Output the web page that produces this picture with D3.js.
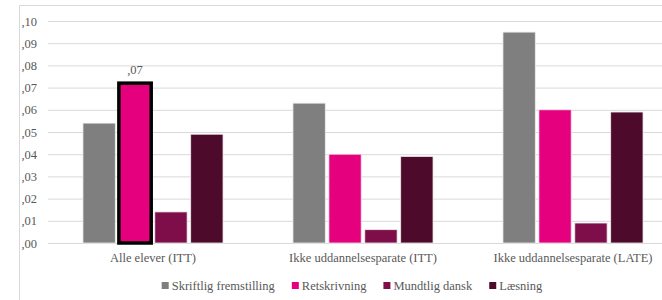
<!DOCTYPE html>
<html>
<head>
<meta charset="utf-8">
<script src="https://cdn.jsdelivr.net/npm/d3@7"></script>
<style>
  body { margin: 0; background: #fff; }
</style>
</head>
<body>
<div id="chart"></div>
<script>
// groups on the x axis
const groups = ["Alle elever (ITT)", "Ikke uddannelsesparate (ITT)", "Ikke uddannelsesparate (LATE)"];
const series = ["Skriftlig fremstilling", "Retskrivning", "Mundtlig dansk", "Læsning"];
const colors = ["#7f7f7f", "#e5007e", "#7e0e4a", "#4d0a2b"];

// values per series, one per group
const skriftlig = [0.054, 0.063, 0.095];
const retskrivning = [0.072, 0.040, 0.060];
const mundtlig = [0.014, 0.006, 0.009];
const laesning = [0.049, 0.039, 0.059];

const yTicks = [0, 0.01, 0.02, 0.03, 0.04, 0.05, 0.06, 0.07, 0.08, 0.09, 0.10];

// the highlighted bar (group, series) with its label
const highlight = { group: "Alle elever (ITT)", series: "Retskrivning", label: ",07" };

const values = [skriftlig, retskrivning, mundtlig, laesning];
const data = groups.flatMap((g, gi) =>
  series.map((s, si) => ({ group: g, series: s, value: values[si][gi], color: colors[si] }))
);

const width = 662, height = 300;
const margin = { top: 21, left: 48, bottom: 57 };
const FONT = '"Liberation Serif"';
const FS = "12.5px";

const svg = d3.select("#chart").append("svg")
  .attr("width", width)
  .attr("height", height);

// chart border (cropped at the right and bottom in the original)
svg.append("rect")
  .attr("x", 19.5).attr("y", 5.5)
  .attr("width", 700).attr("height", 320)
  .attr("fill", "none")
  .attr("stroke", "#d9d9d9");

const x0 = d3.scaleBand()
  .domain(groups)
  .range([margin.left, margin.left + 630])
  .paddingInner(0.333)
  .paddingOuter(0.1665);

const x1 = d3.scaleBand()
  .domain(series)
  .range([0, x0.bandwidth()])
  .paddingInner(0.1);

const y = d3.scaleLinear()
  .domain([0, 0.10])
  .range([height - margin.bottom, margin.top]);

// gridlines + tick labels
const fmt = (d) => d3.format(".2f")(d).replace("0.", ",");
const yAxis = svg.append("g")
  .call(d3.axisLeft(y).tickValues(yTicks).tickSize(-(width - margin.left)).tickFormat(fmt))
  .attr("transform", `translate(${margin.left},0)`)
  .attr("font-family", null);
yAxis.select(".domain").remove();
yAxis.selectAll(".tick line").attr("stroke", "#d9d9d9").attr("stroke-width", 1);
yAxis.selectAll(".tick text")
  .attr("x", -11)
  .style("font-size", FS)
  .style("font-family", FONT)
  .attr("fill", "#595959");

// bars
svg.append("g")
  .selectAll("rect")
  .data(data)
  .join("rect")
  .attr("x", (d) => x0(d.group) + x1(d.series))
  .attr("y", (d) => y(d.value))
  .attr("width", x1.bandwidth())
  .attr("height", (d) => y(0) - y(d.value))
  .attr("fill", (d) => d.color)
  .attr("stroke", (d) => (d.group === highlight.group && d.series === highlight.series) ? "#000" : "#ececec")
  .attr("stroke-width", (d) => (d.group === highlight.group && d.series === highlight.series) ? 3.5 : 0.8);

// label on highlighted bar
const hv = data.find((d) => d.group === highlight.group && d.series === highlight.series);
svg.append("text")
  .attr("x", x0(hv.group) + x1(hv.series) + x1.bandwidth() / 2)
  .attr("y", y(hv.value) - 9)
  .attr("text-anchor", "middle")
  .style("font-size", FS)
  .style("font-family", FONT)
  .attr("fill", "#595959")
  .text(highlight.label);

// category labels
svg.append("g")
  .selectAll("text")
  .data(groups)
  .join("text")
  .attr("x", (d) => x0(d) + x0.bandwidth() / 2)
  .attr("y", y(0) + 19)
  .attr("text-anchor", "middle")
  .style("font-size", FS)
  .style("font-family", FONT)
  .attr("fill", "#595959")
  .text((d) => d);

// legend
const legend = svg.append("g").attr("transform", `translate(0,${286})`);
const items = legend.selectAll("g")
  .data(series)
  .join("g");
items.append("rect")
  .attr("x", 0).attr("y", -4)
  .attr("width", 7).attr("height", 7)
  .attr("fill", (d, i) => colors[i]);
items.append("text")
  .attr("x", 10)
  .attr("y", 4)
  .style("font-size", FS)
  .style("font-family", FONT)
  .attr("fill", "#595959")
  .text((d) => d);

let offset = 0;
const widths = [];
items.each(function () {
  const w = 10 + this.querySelector("text").getComputedTextLength();
  widths.push(w);
});
const gap = 17;
const total = d3.sum(widths) + gap * (widths.length - 1);
let start = 352 - total / 2;
items.attr("transform", (d, i) => {
  const t = `translate(${start + offset},0)`;
  offset += widths[i] + gap;
  return t;
});
</script>
</body>
</html>
